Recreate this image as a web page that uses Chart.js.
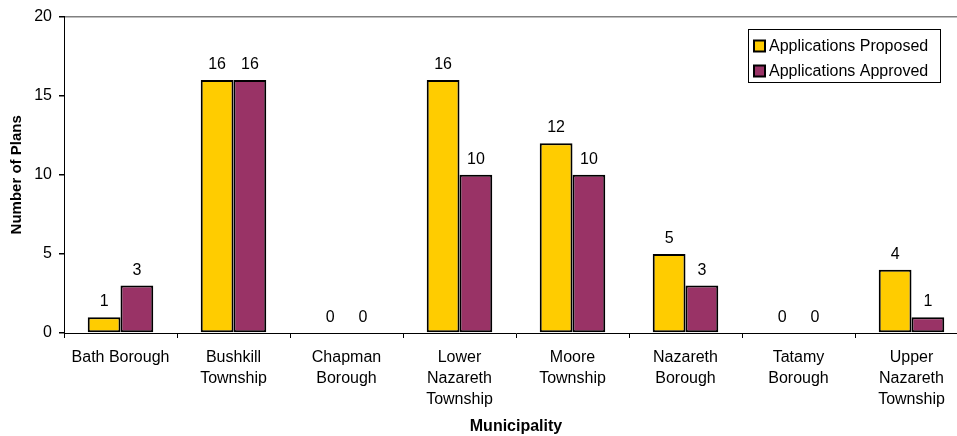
<!DOCTYPE html>
<html>
<head>
<meta charset="utf-8">
<script src="https://cdn.jsdelivr.net/npm/chart.js@4/dist/chart.umd.min.js"></script>
<style>
  html, body { margin: 0; padding: 0; background: #fff; overflow: hidden; }
  canvas { display: block; }
</style>
</head>
<body>
<canvas id="c" width="968" height="436"></canvas>
<script>
// Plan applications by municipality
const categories = [
  ['Bath Borough'],
  ['Bushkill', 'Township'],
  ['Chapman', 'Borough'],
  ['Lower', 'Nazareth', 'Township'],
  ['Moore', 'Township'],
  ['Nazareth', 'Borough'],
  ['Tatamy', 'Borough'],
  ['Upper', 'Nazareth', 'Township']
];
const proposed = [1, 16, 0, 16, 12, 5, 0, 4];
const approved = [3, 16, 0, 10, 10, 3, 0, 1];
const seriesNames = ['Applications Proposed', 'Applications Approved'];
const seriesColors = ['#FFCC00', '#993366'];
const yTicks = { min: 0, max: 20, step: 5 };

const FONT = '"Liberation Sans", Arial, Helvetica, sans-serif';

// value labels above each bar
const valueLabels = {
  id: 'valueLabels',
  afterDatasetsDraw(chart) {
    const ctx = chart.ctx;
    ctx.save();
    ctx.font = '16px ' + FONT;
    ctx.fillStyle = '#000';
    ctx.textAlign = 'center';
    ctx.textBaseline = 'alphabetic';
    chart.data.datasets.forEach((ds, i) => {
      chart.getDatasetMeta(i).data.forEach((bar, j) => {
        ctx.fillText(String(ds.data[j]), bar.x, bar.y - 11);
      });
    });
    ctx.restore();
  }
};

// boxed legend inside the plot area, top right
const boxLegend = {
  id: 'boxLegend',
  afterDraw(chart) {
    const ctx = chart.ctx;
    ctx.save();
    const x = 748.5, y = 29.5, w = 192, h = 53;
    ctx.fillStyle = '#fff';
    ctx.fillRect(x, y, w, h);
    ctx.strokeStyle = '#000';
    ctx.lineWidth = 1;
    ctx.strokeRect(x, y, w, h);
    ctx.font = '16px ' + FONT;
    ctx.textBaseline = 'middle';
    ctx.textAlign = 'left';
    chart.data.datasets.forEach((ds, i) => {
      const cy = 46 + i * 25;
      ctx.fillStyle = ds.backgroundColor;
      ctx.fillRect(754, cy - 5.5, 11, 11);
      ctx.lineWidth = 2;
      ctx.strokeRect(754, cy - 5.5, 11, 11);
      ctx.fillStyle = '#000';
      ctx.fillText(ds.label, 769, cy + 0.5);
    });
    ctx.restore();
  }
};

new Chart(document.getElementById('c'), {
  type: 'bar',
  data: {
    labels: categories,
    datasets: [
      { label: seriesNames[0], data: proposed, backgroundColor: seriesColors[0] },
      { label: seriesNames[1], data: approved, backgroundColor: seriesColors[1] }
    ]
  },
  options: {
    responsive: false,
    animation: false,
    devicePixelRatio: 1,
    layout: { padding: { top: 15, right: 0, left: 0, bottom: 0 } },
    datasets: {
      bar: {
        borderColor: '#000',
        borderWidth: 2,
        borderSkipped: false,
        categoryPercentage: 0.58,
        barPercentage: 1.0
      }
    },
    plugins: {
      legend: { display: false },
      tooltip: { enabled: false }
    },
    scales: {
      x: {
        grid: {
          offset: true,
          drawOnChartArea: false,
          tickLength: 5,
          tickColor: '#000'
        },
        border: { color: '#000', width: 1 },
        ticks: {
          color: '#000',
          font: { family: FONT, size: 16, lineHeight: 1.32 },
          padding: 9,
          maxRotation: 0,
          autoSkip: false
        },
        title: {
          display: true,
          text: 'Municipality',
          color: '#000',
          font: { family: FONT, size: 16, weight: 'bold' },
          padding: { top: 0, bottom: 0 }
        },
        afterFit(scale) { scale.height = 103; }
      },
      y: {
        min: yTicks.min,
        max: yTicks.max,
        ticks: {
          stepSize: yTicks.step,
          color: '#000',
          font: { family: FONT, size: 16 },
          padding: 7
        },
        grid: {
          color: (c) => (c.tick && c.tick.value === yTicks.max ? '#808080' : 'rgba(0,0,0,0)'),
          lineWidth: 1.5,
          tickLength: 5,
          tickColor: '#000'
        },
        border: { color: '#000', width: 1 },
        title: {
          display: true,
          text: 'Number of Plans',
          color: '#000',
          font: { family: FONT, size: 15, weight: 'bold' },
          padding: { top: 8, bottom: 0 }
        },
        afterFit(scale) { scale.width = 64; }
      }
    }
  },
  plugins: [valueLabels, boxLegend]
});
</script>
</body>
</html>
